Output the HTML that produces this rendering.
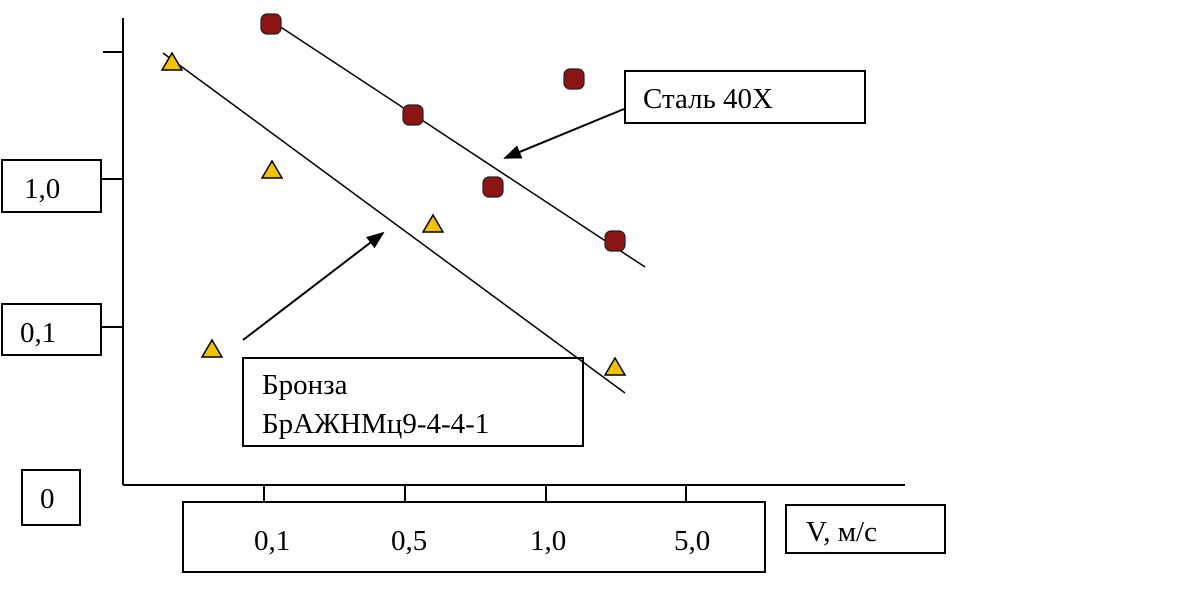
<!DOCTYPE html>
<html><head><meta charset="utf-8"><style>
html,body{margin:0;padding:0;background:#fff;width:1200px;height:602px;overflow:hidden}
svg text{font-family:"Liberation Serif",serif;font-size:29px;fill:#000}
</style></head><body>
<svg width="1200" height="602" viewBox="0 0 1200 602" xmlns="http://www.w3.org/2000/svg">
<defs>
<marker id="ah2" markerWidth="18" markerHeight="14" refX="16" refY="7" orient="auto" markerUnits="userSpaceOnUse"><path d="M0,0 L18,7 L0,14 z" fill="#000"/></marker></defs>
<g stroke="#000" stroke-width="2" fill="none">
<line x1="123" y1="18" x2="123" y2="485"/>
<line x1="123" y1="485" x2="905" y2="485"/>
<line x1="103" y1="52" x2="123" y2="52"/>
<line x1="101" y1="179" x2="123" y2="179"/>
<line x1="101" y1="327" x2="123" y2="327"/>
<line x1="264" y1="485" x2="264" y2="502"/>
<line x1="405" y1="485" x2="405" y2="502"/>
<line x1="546" y1="485" x2="546" y2="502"/>
<line x1="686" y1="485" x2="686" y2="502"/>
<rect x="2" y="160" width="99" height="52"/>
<rect x="2" y="304" width="99" height="51"/>
<rect x="22" y="470" width="58" height="55"/>
<rect x="183" y="502" width="582" height="70"/>
<rect x="786" y="505" width="159" height="48"/>
<rect x="625" y="71" width="240" height="52"/>
<rect x="243" y="358" width="340" height="88"/>
<line x1="270" y1="20" x2="645" y2="267" stroke-width="1.5"/>
<line x1="163" y1="53" x2="625" y2="393" stroke-width="1.5"/>
<line x1="624" y1="109" x2="505" y2="158" marker-end="url(#ah2)"/>
<line x1="243" y1="340" x2="383" y2="233" marker-end="url(#ah2)"/>
</g>
<g fill="#8b1414" stroke="#222" stroke-width="1.2">
<rect x="261" y="14" width="20" height="20" rx="6"/>
<rect x="403" y="105" width="20" height="20" rx="6"/>
<rect x="564" y="69" width="20" height="20" rx="6"/>
<rect x="483" y="177" width="20" height="20" rx="6"/>
<rect x="605" y="231" width="20" height="20" rx="6"/>
</g>
<g fill="#f2c200" stroke="#000" stroke-width="1.5">
<polygon points="172,53 162,70 182,70"/>
<polygon points="272,161 262,178 282,178"/>
<polygon points="433,215 423,232 443,232"/>
<polygon points="212,340 202,357 222,357"/>
<polygon points="615,358 605,375 625,375"/>
</g>
<text x="24" y="198">1,0</text>
<text x="20" y="342">0,1</text>
<text x="40" y="508">0</text>
<text x="254" y="550">0,1</text>
<text x="391" y="550">0,5</text>
<text x="530" y="550">1,0</text>
<text x="674" y="550">5,0</text>
<text x="806" y="541">V, м/с</text>
<text x="643" y="108">Сталь 40Х</text>
<text x="262" y="394">Бронза</text>
<text x="262" y="433">БрАЖНМц9-4-4-1</text>
</svg>
</body></html>
